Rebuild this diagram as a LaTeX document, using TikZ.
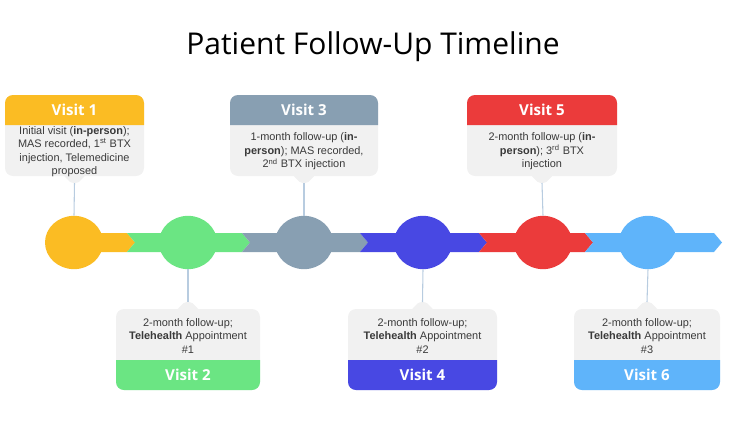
\documentclass[tikz,border=0pt]{standalone}
\usepackage{fontspec}
\setmainfont{Liberation Sans}
\newfontfamily\headfont{Open Sans}
\usetikzlibrary{shapes.geometric}
\definecolor{Amber}{HTML}{FBBC23}
\definecolor{Mint}{HTML}{6BE583}
\definecolor{Slate}{HTML}{889FB2}
\definecolor{Indigo}{HTML}{4848E3}
\definecolor{Scarlet}{HTML}{EB3B3B}
\definecolor{Sky}{HTML}{5FB4FA}
\definecolor{Card}{HTML}{F1F1F1}
\definecolor{Wire}{HTML}{B8CCE0}
\definecolor{Ink}{HTML}{3A3A3A}
\tikzset{
  headtxt/.style={text=white,font=\headfont\bfseries\fontsize{11.3}{13}\selectfont,inner sep=0pt},
  bodytxt/.style={text=Ink,font=\fontsize{8.2}{10.1}\selectfont,align=center,inner sep=0pt},
  dot/.style={ellipse,minimum width=43.5pt,minimum height=40pt,inner sep=0pt},
  link/.style={draw=Wire,line width=0.8pt}
}
% #1 name, #2 centre x, #3 width, #4 colour, #5 header, #6 text
\newcommand{\VisitUp}[6]{%
  \fill[Card,rounded corners=6] (#2-#3/2,95) rectangle (#2+#3/2,176);
  \fill[Card] (#2-14,175) .. controls (#2-7,175) and (#2-8,183) .. (#2,183)
    .. controls (#2+8,183) and (#2+7,175) .. (#2+14,175) -- cycle;
  \fill[#4] (#2-#3/2,125) {[rounded corners=6] -- (#2-#3/2,95) -- (#2+#3/2,95)} -- (#2+#3/2,125) -- cycle;
  \node[headtxt] (#1h) at (#2,110) {#5};
  \node[bodytxt] (#1b) at (#2,151.5) {#6};
  \coordinate (#1t) at (#2,183);
}
\newcommand{\VisitDown}[6]{%
  \fill[Card,rounded corners=6] (#2-#3/2,309) rectangle (#2+#3/2,390);
  \fill[Card] (#2-14,310) .. controls (#2-7,310) and (#2-8,302) .. (#2,302)
    .. controls (#2+8,302) and (#2+7,310) .. (#2+14,310) -- cycle;
  \fill[#4] (#2-#3/2,360) {[rounded corners=6] -- (#2-#3/2,390) -- (#2+#3/2,390)} -- (#2+#3/2,360) -- cycle;
  \node[headtxt] (#1h) at (#2,375) {#5};
  \node[bodytxt] (#1b) at (#2,336) {#6};
  \coordinate (#1t) at (#2,302);
}

\begin{document}
\begin{tikzpicture}[x=0.75pt,y=-0.75pt]
\useasboundingbox (0,0) rectangle (750,422);
\node[font=\headfont\fontsize{22.5}{26}\selectfont,text=black] (title) at (373,47) {Patient Follow-Up Timeline};

% timeline band
\foreach \s/\b/\c in {74/127/Amber,127/242/Mint,242/360/Slate,360/479/Indigo,479/585/Scarlet,585/714/Sky} {
  \fill[\c] (\s,233) -- (\b,233) -- (\b+8,242.5) -- (\b,252) -- (\s,252) -- (\s+8,242.5) -- cycle;
}
\foreach \n/\x/\c in {1/74/Amber,2/188/Mint,3/304/Slate,4/423/Indigo,5/543/Scarlet,6/648/Sky} {
  \node[dot,fill=\c] (c\n) at (\x,242.5) {};
}

% callouts
\VisitUp{v1}{74.5}{139}{Amber}{Visit 1}{Initial visit (\textbf{in-person});\\MAS recorded, 1\textsuperscript{st} BTX\\injection, Telemedicine\\proposed}
\VisitUp{v3}{304}{148}{Slate}{Visit 3}{1-month follow-up (\textbf{in-}\\\textbf{person}); MAS recorded,\\2\textsuperscript{nd} BTX injection}
\VisitUp{v5}{542}{150}{Scarlet}{Visit 5}{2-month follow-up (\textbf{in-}\\\textbf{person}); 3\textsuperscript{rd} BTX\\injection}
\VisitDown{v2}{188}{144}{Mint}{Visit 2}{2-month follow-up;\\\textbf{Telehealth} Appointment\\\#1}
\VisitDown{v4}{422.5}{149}{Indigo}{Visit 4}{2-month follow-up;\\\textbf{Telehealth} Appointment\\\#2}
\VisitDown{v6}{647}{146}{Sky}{Visit 6}{2-month follow-up;\\\textbf{Telehealth} Appointment\\\#3}

% connectors
\foreach \n in {1,3,5} { \draw[link] (v\n t) -- (c\n.north); }
\foreach \n in {2,4,6} { \draw[link] (c\n.south) -- (v\n t); }
\end{tikzpicture}
\end{document}
